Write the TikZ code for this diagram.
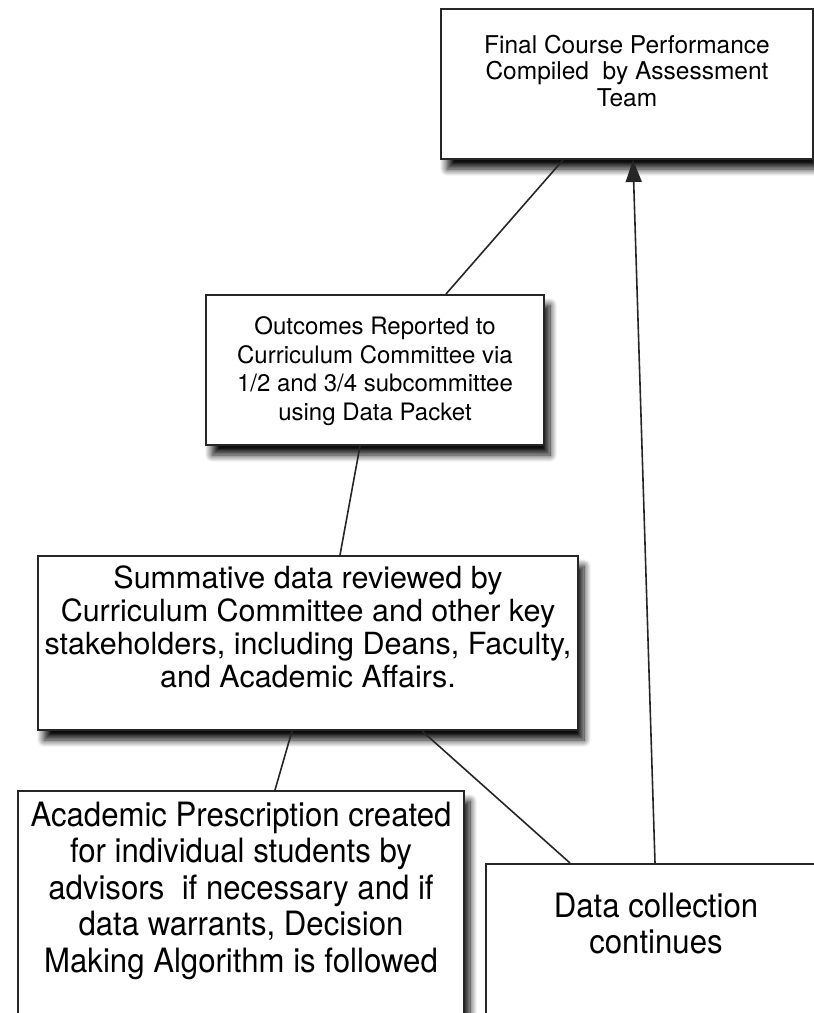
\documentclass[tikz,border=0pt]{standalone}
\usepackage{fontspec}
\setmainfont{TeX Gyre Heros}
\newfontfamily\narrowfont[FakeStretch=0.93]{TeX Gyre Heros}
\usetikzlibrary{arrows.meta, shadows.blur, calc}
\tikzset{
stage/.style={draw=black!85, line width=2pt, fill=white, inner sep=0pt, anchor=north west,
  blur shadow={shadow xshift=6pt, shadow yshift=-10pt, shadow blur radius=7pt, shadow blur steps=10, shadow opacity=95}}, % boxes with soft shadow
link/.style={draw=black!85, line width=1.6pt}, % plain connector
flow/.style={link, -{Triangle[length=22pt, width=16pt]}}, % connector with arrow head
}
% box text: height, width, top gap, text
\newcommand{\stagetext}[4]{\parbox[c][#1][t]{#2}{\centering\vspace*{#3}#4}}

\begin{document}
\begin{tikzpicture}[x=1pt, y=-1pt]
    \useasboundingbox (0,0) rectangle (814,1013);
    \clip (0,0) rectangle (814,1013);
    \node[stage] (final) at (440,8) {\stagetext{150pt}{372pt}{26pt}{\fontsize{24.5}{26.5}\selectfont
        Final Course Performance\\ Compiled\ \ by Assessment\\ Team}};
    \node[stage] (outcomes) at (205,294) {\stagetext{150pt}{338pt}{22pt}{\fontsize{24}{28.5}\selectfont
        Outcomes Reported to\\ Curriculum Committee via\\ 1/2 and 3/4 subcommittee\\ using Data Packet}};
    \node[stage] (summative) at (37,555) {\stagetext{174pt}{540pt}{10pt}{\fontsize{30.5}{33}\selectfont
        Summative data reviewed by\\ Curriculum Committee and other key\\ stakeholders, including Deans, Faculty,\\ and Academic Affairs.}};
    \node[stage] (academic) at (17,790) {\stagetext{260pt}{446pt}{11pt}{\narrowfont\fontsize{33.5}{36.5}\selectfont
        Academic Prescription created\\ for individual students by\\ advisors\ \ if necessary and if\\ data warrants, Decision\\ Making Algorithm is followed}};
    \node[stage] (data) at (485,863) {\stagetext{200pt}{340pt}{29pt}{\narrowfont\fontsize{33.5}{36.5}\selectfont
        Data collection\\ continues}};
    \draw[link] ($(final.south west)+(123,0)$) -- ($(outcomes.north west)+(241,0)$);
    \draw[link] ($(outcomes.south west)+(155,0)$) -- ($(summative.north west)+(303,0)$);
    \draw[link] ($(summative.south west)+(255,0)$) -- ($(academic.north west)+(258,0)$);
    \draw[link] ($(summative.south west)+(385,0)$) -- ($(data.north west)+(85,0)$);
    \draw[flow] ($(data.north west)+(170,0)$) -- ($(final.south west)+(193,0)$);
\end{tikzpicture}
\end{document}
